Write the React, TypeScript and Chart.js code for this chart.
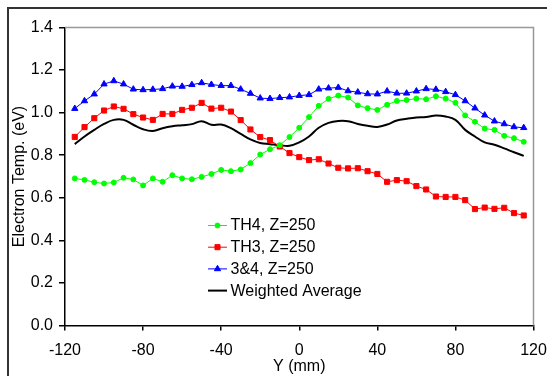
import React, { useEffect, useRef } from "react";
import { Chart, registerables } from "chart.js";
import { drawPoint } from "chart.js/helpers";

Chart.register(...registerables);

const positions = [
  -115, -110, -105, -100, -95, -90, -85, -80, -75, -70, -65, -60, -55, -50, -45, -40,
  -35, -30, -25, -20, -15, -10, -5, 0, 5, 10, 15, 20, 25, 30, 35, 40, 45, 50, 55, 60,
  65, 70, 75, 80, 85, 90, 95, 100, 105, 110, 115,
];

const th4 = [
  0.691, 0.684, 0.673, 0.667, 0.672, 0.694, 0.686, 0.658, 0.691, 0.675, 0.706, 0.691,
  0.687, 0.698, 0.712, 0.731, 0.725, 0.733, 0.763, 0.803, 0.828, 0.847, 0.885, 0.929,
  0.979, 1.032, 1.065, 1.08, 1.071, 1.034, 1.021, 1.013, 1.037, 1.055, 1.059, 1.066,
  1.063, 1.077, 1.066, 1.046, 0.987, 0.957, 0.925, 0.919, 0.891, 0.88, 0.863,
];

const th3 = [
  0.886, 0.932, 0.974, 1.01, 1.029, 1.018, 0.993, 0.977, 0.966, 0.994, 0.994, 1.013,
  1.023, 1.046, 1.019, 1.023, 1.005, 0.965, 0.921, 0.885, 0.871, 0.841, 0.81, 0.791,
  0.777, 0.781, 0.761, 0.741, 0.738, 0.739, 0.725, 0.712, 0.675, 0.683, 0.678, 0.655,
  0.639, 0.606, 0.604, 0.604, 0.589, 0.547, 0.554, 0.548, 0.553, 0.528, 0.517,
];

const th34 = [
  1.019, 1.055, 1.087, 1.134, 1.149, 1.134, 1.11, 1.107, 1.109, 1.112, 1.124, 1.123,
  1.131, 1.14, 1.132, 1.127, 1.127, 1.11, 1.09, 1.068, 1.066, 1.07, 1.073, 1.08,
  1.084, 1.11, 1.115, 1.118, 1.102, 1.096, 1.088, 1.087, 1.101, 1.091, 1.091, 1.101,
  1.112, 1.109, 1.098, 1.084, 1.055, 1.021, 0.988, 0.96, 0.947, 0.933, 0.929,
];

const weighted = [
  0.852, 0.888, 0.919, 0.947, 0.966, 0.966, 0.943, 0.922, 0.914, 0.927, 0.936, 0.941,
  0.946, 0.96, 0.943, 0.944, 0.927, 0.9, 0.874, 0.857, 0.852, 0.847, 0.844, 0.86,
  0.888, 0.929, 0.952, 0.961, 0.96, 0.947, 0.938, 0.933, 0.944, 0.963, 0.971, 0.977,
  0.979, 0.987, 0.982, 0.966, 0.919, 0.888, 0.86, 0.849, 0.832, 0.814, 0.797,
];

const seriesLabels = ["TH4, Z=250", "TH3, Z=250", "3&4, Z=250", "Weighted Average"];
const xTitle = "Y (mm)";
const yTitle = "Electron Temp. (eV)";

const FONT = "'Liberation Sans', Arial, Helvetica, sans-serif";

const toXY = (vals: number[]) => vals.map((v, i) => ({ x: positions[i], y: v }));

const insideLegend = {
  id: "insideLegend",
  afterDatasetsDraw(chart: any) {
    const ctx = chart.ctx;
    const x0 = 208;
    const y0 = 225.5;
    const dy = 21.7;
    chart.data.datasets.forEach((ds: any, i: number) => {
      const y = y0 + i * dy;
      ctx.save();
      ctx.strokeStyle = ds.borderColor;
      ctx.lineWidth = ds.borderWidth;
      ctx.beginPath();
      ctx.moveTo(x0, y);
      ctx.lineTo(x0 + 19, y);
      ctx.stroke();
      if (ds.pointRadius > 0) {
        ctx.fillStyle = ds.pointBackgroundColor;
        ctx.strokeStyle = ds.pointBorderColor;
        ctx.lineWidth = 1;
        drawPoint(ctx, { pointStyle: ds.pointStyle, radius: ds.pointRadius, borderWidth: 1, rotation: 0 } as any, x0 + 9.5, y);
      }
      ctx.fillStyle = "#000";
      ctx.font = `16px ${FONT}`;
      ctx.textBaseline = "middle";
      ctx.textAlign = "left";
      ctx.fillText(ds.label, x0 + 22.5, y + 0.5);
      ctx.restore();
    });
  },
};

const frame = {
  id: "frame",
  beforeDatasetsDraw(chart: any) {
    const { ctx, chartArea } = chart;
    ctx.save();
    ctx.strokeStyle = "#999";
    ctx.lineWidth = 1.5;
    ctx.beginPath();
    ctx.moveTo(chartArea.left, chartArea.top);
    ctx.lineTo(chartArea.right, chartArea.top);
    ctx.lineTo(chartArea.right, chartArea.bottom);
    ctx.stroke();
    ctx.restore();
  },
};

export default function App() {
  const ref = useRef<HTMLCanvasElement | null>(null);

  useEffect(() => {
    if (!ref.current) return;
    const mk = (label: string, data: number[], color: string, style: any, radius: number, width: number, tension = 0) => ({
      label,
      data: toXY(data),
      borderColor: color,
      backgroundColor: color,
      pointBackgroundColor: color,
      pointBorderColor: color,
      pointStyle: style,
      pointRadius: radius,
      pointBorderWidth: 1,
      borderWidth: width,
      tension,
      fill: false,
    });
    const chart = new Chart(ref.current, {
      type: "line",
      data: {
        datasets: [
          mk(seriesLabels[0], th4, "#00FF00", "circle", 2.5, 1),
          mk(seriesLabels[1], th3, "#FF0000", "rect", 3.6, 1),
          mk(seriesLabels[2], th34, "#0000FF", "triangle", 3.6, 1),
          mk(seriesLabels[3], weighted, "#000000", "circle", 0, 2, 0.4),
        ] as any,
      },
      options: {
        animation: false,
        responsive: false,
        devicePixelRatio: 1,
        layout: { padding: { top: 27.5, right: 0, left: 0, bottom: 0 } },
        plugins: {
          legend: { display: false },
          tooltip: { enabled: false },
        },
        elements: { point: { hoverRadius: 0 } },
        scales: {
          x: {
            type: "linear",
            min: -120,
            max: 120,
            afterFit: (s: any) => {
              s.height = 50.5;
              s.paddingLeft = 0;
              s.paddingRight = 13.5;
            },
            ticks: {
              stepSize: 40,
              color: "#000",
              font: { family: FONT, size: 16 },
              padding: 10,
              maxRotation: 0,
            },
            grid: { display: true, drawOnChartArea: false, drawTicks: true, tickLength: 5, color: "#000", lineWidth: 1.5 },
            border: { display: true, color: "#000", width: 1.5 },
            title: {
              display: true,
              text: xTitle,
              color: "#000",
              font: { family: FONT, size: 16 },
              padding: { top: 0, bottom: 0 },
            },
          },
          y: {
            type: "linear",
            min: 0,
            max: 1.4,
            afterFit: (s: any) => {
              s.width = 65;
              s.paddingTop = 0;
              s.paddingBottom = 0;
            },
            ticks: {
              stepSize: 0.2,
              color: "#000",
              font: { family: FONT, size: 16 },
              padding: 6,
              callback: (v: any) => Number(v).toFixed(1),
            },
            grid: { display: true, drawOnChartArea: false, drawTicks: true, tickLength: 6, color: "#000", lineWidth: 1.5 },
            border: { display: true, color: "#000", width: 1.5 },
            title: {
              display: true,
              text: yTitle,
              color: "#000",
              font: { family: FONT, size: 16 },
              padding: { top: 10, bottom: 0 },
            },
          },
        },
      },
      plugins: [frame, insideLegend],
    });
    return () => chart.destroy();
  }, []);

  return (
    <div style={{ position: "fixed", left: 0, top: 0, width: 547, height: 376, overflow: "hidden", background: "#fff" }}>
      <div
        style={{
          position: "absolute",
          left: 7,
          top: 7,
          width: 700,
          height: 500,
          border: "2px solid #333",
          boxSizing: "border-box",
        }}
      />
      <canvas ref={ref} width={547} height={376} style={{ position: "absolute", left: 0, top: 0, width: 547, height: 376 }} />
    </div>
  );
}
